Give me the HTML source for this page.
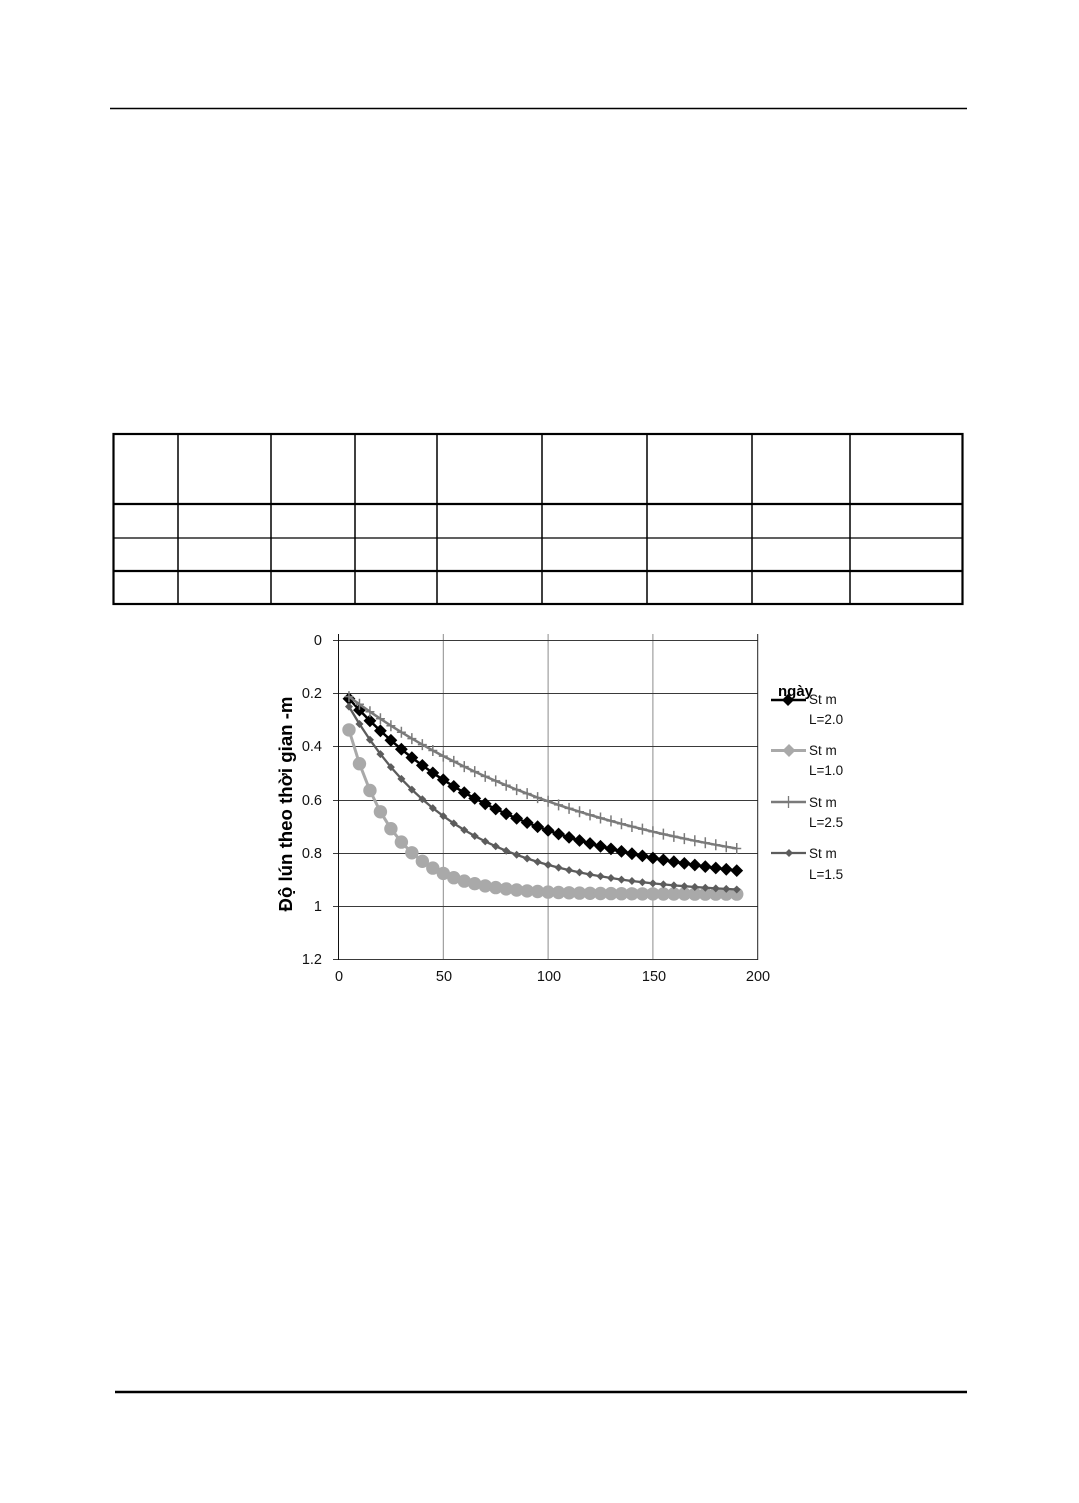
<!DOCTYPE html>
<html><head><meta charset="utf-8"><style>
html,body{margin:0;padding:0;background:#fff;}
svg{display:block;}
text{font-family:"Liberation Sans",sans-serif;}
</style></head><body>
<svg width="1079" height="1503" viewBox="0 0 1079 1503" xmlns="http://www.w3.org/2000/svg">
<rect width="1079" height="1503" fill="#fff"/>
<!-- header / footer rules -->
<line x1="110" y1="108.5" x2="967" y2="108.5" stroke="#000" stroke-width="1.5"/>
<line x1="115" y1="1392" x2="967" y2="1392" stroke="#000" stroke-width="2.5"/>

<!-- table -->
<g stroke="#000" fill="none">
<rect x="113.5" y="434" width="849" height="170" stroke-width="2.2"/>
<line x1="113" y1="504" x2="963" y2="504" stroke-width="2.2"/>
<line x1="113" y1="538" x2="963" y2="538" stroke-width="1.3"/>
<line x1="113" y1="571" x2="963" y2="571" stroke-width="2.2"/>
<g stroke-width="1.5">
<line x1="178" y1="434" x2="178" y2="604"/>
<line x1="271" y1="434" x2="271" y2="604"/>
<line x1="355" y1="434" x2="355" y2="604"/>
<line x1="437" y1="434" x2="437" y2="604"/>
<line x1="542" y1="434" x2="542" y2="604"/>
<line x1="647" y1="434" x2="647" y2="604"/>
<line x1="752" y1="434" x2="752" y2="604"/>
<line x1="850" y1="434" x2="850" y2="604"/>
</g>
</g>

<defs>
<marker id="mB" markerUnits="userSpaceOnUse" markerWidth="14" markerHeight="14" refX="7" refY="7" overflow="visible"><path d="M7 0.6 L13.4 7 L7 13.4 L0.6 7Z" fill="#000"/></marker>
<marker id="mA" markerUnits="userSpaceOnUse" markerWidth="15" markerHeight="15" refX="7.5" refY="7.5" overflow="visible"><circle cx="7.5" cy="7.5" r="6.7" fill="#a9a9a9"/></marker>
<marker id="mC" markerUnits="userSpaceOnUse" markerWidth="12" markerHeight="12" refX="6" refY="6" overflow="visible"><path d="M6 0.5 V11.5 M1.5 6 H10.5" stroke="#7a7a7a" stroke-width="1.5" fill="none"/></marker>
<marker id="mD" markerUnits="userSpaceOnUse" markerWidth="9" markerHeight="9" refX="4.5" refY="4.5" overflow="visible"><path d="M4.5 0.5 L8.5 4.5 L4.5 8.5 L0.5 4.5Z" fill="#5c5c5c"/></marker>
</defs>

<!-- chart grid -->
<g stroke-width="1" fill="none">
<g stroke="#8c8c8c">
<line x1="443.3" y1="634" x2="443.3" y2="960"/>
<line x1="548.1" y1="634" x2="548.1" y2="960"/>
<line x1="652.9" y1="634" x2="652.9" y2="960"/>
</g>
<g stroke="#3a3a3a">
<line x1="333" y1="640.5" x2="758" y2="640.5"/>
<line x1="333" y1="693.5" x2="758" y2="693.5"/>
<line x1="333" y1="746.5" x2="758" y2="746.5"/>
<line x1="333" y1="800.5" x2="758" y2="800.5"/>
<line x1="333" y1="853.5" x2="758" y2="853.5"/>
<line x1="333" y1="906.5" x2="758" y2="906.5"/>
<line x1="333" y1="959.5" x2="758" y2="959.5"/>
</g>
<line x1="338.5" y1="634" x2="338.5" y2="960" stroke="#111"/>
<line x1="757.7" y1="634" x2="757.7" y2="960" stroke="#222"/>
</g>

<!-- y tick labels -->
<g font-size="14.5" fill="#111" text-anchor="end">
<text x="322" y="645">0</text>
<text x="322" y="698">0.2</text>
<text x="322" y="751">0.4</text>
<text x="322" y="805">0.6</text>
<text x="322" y="858">0.8</text>
<text x="322" y="911">1</text>
<text x="322" y="964">1.2</text>
</g>
<!-- x tick labels -->
<g font-size="14.5" fill="#111" text-anchor="middle">
<text x="339" y="981">0</text>
<text x="444" y="981">50</text>
<text x="549" y="981">100</text>
<text x="654" y="981">150</text>
<text x="758" y="981">200</text>
</g>
<!-- y axis title -->
<text transform="translate(292,804) rotate(-90)" font-size="18" font-weight="bold" fill="#000" text-anchor="middle" textLength="215" lengthAdjust="spacingAndGlyphs">Độ lún theo thời gian -m</text>

<!-- series: L=2.0 black -->
<polyline fill="none" stroke="#000" stroke-width="2.5" stroke-linejoin="round" marker-start="url(#mB)" marker-mid="url(#mB)" marker-end="url(#mB)" points="348.98,698.7 359.46,710.1 369.94,720.8 380.42,730.8 390.9,740.3 401.38,749.2 411.86,757.6 422.34,765.4 432.82,772.9 443.3,779.8 453.78,786.4 464.26,792.6 474.74,798.4 485.22,803.8 495.7,809.0 506.18,813.8 516.66,818.4 527.14,822.6 537.62,826.7 548.1,830.4 558.58,834.0 569.06,837.4 579.54,840.5 590.02,843.5 600.5,846.3 610.98,848.9 621.46,851.4 631.94,853.7 642.42,855.9 652.9,858.0 663.38,859.9 673.86,861.7 684.34,863.4 694.82,865.0 705.3,866.6 715.78,868.0 726.26,869.3 736.74,870.6"/>
<!-- series: L=1.0 circles -->
<polyline fill="none" stroke="#a9a9a9" stroke-width="3" stroke-linejoin="round" marker-start="url(#mA)" marker-mid="url(#mA)" marker-end="url(#mA)" points="348.98,729.9 359.46,763.7 369.94,790.5 380.42,811.8 390.9,828.7 401.38,842.1 411.86,852.8 422.34,861.3 432.82,868.1 443.3,873.4 453.78,877.7 464.26,881.1 474.74,883.7 485.22,885.9 495.7,887.6 506.18,888.9 516.66,890.0 527.14,890.9 537.62,891.5 548.1,892.1 558.58,892.5 569.06,892.8 579.54,893.1 590.02,893.3 600.5,893.5 610.98,893.6 621.46,893.7 631.94,893.8 642.42,893.9 652.9,893.9 663.38,894.0 673.86,894.0 684.34,894.0 694.82,894.1 705.3,894.1 715.78,894.1 726.26,894.1 736.74,894.1"/>
<!-- series: L=2.5 plus -->
<polyline fill="none" stroke="#7a7a7a" stroke-width="2.5" stroke-linejoin="round" marker-start="url(#mC)" marker-mid="url(#mC)" marker-end="url(#mC)" points="348.98,696.6 359.46,704.3 369.94,711.7 380.42,718.8 390.9,725.7 401.38,732.2 411.86,738.6 422.34,744.6 432.82,750.5 443.3,756.1 453.78,761.4 464.26,766.6 474.74,771.6 485.22,776.4 495.7,780.9 506.18,785.3 516.66,789.6 527.14,793.6 537.62,797.6 548.1,801.3 558.58,804.9 569.06,808.4 579.54,811.7 590.02,814.9 600.5,818.0 610.98,820.9 621.46,823.8 631.94,826.5 642.42,829.1 652.9,831.7 663.38,834.1 673.86,836.4 684.34,838.6 694.82,840.8 705.3,842.8 715.78,844.8 726.26,846.7 736.74,848.5"/>
<!-- series: L=1.5 small diamonds -->
<polyline fill="none" stroke="#5c5c5c" stroke-width="2.3" stroke-linejoin="round" marker-start="url(#mD)" marker-mid="url(#mD)" marker-end="url(#mD)" points="348.98,706.6 359.46,724.0 369.94,739.8 380.42,754.1 390.9,767.1 401.38,778.9 411.86,789.6 422.34,799.3 432.82,808.1 443.3,816.1 453.78,823.4 464.26,830.0 474.74,836.0 485.22,841.4 495.7,846.3 506.18,850.8 516.66,854.8 527.14,858.5 537.62,861.9 548.1,864.9 558.58,867.6 569.06,870.1 579.54,872.4 590.02,874.5 600.5,876.3 610.98,878.0 621.46,879.6 631.94,881.0 642.42,882.2 652.9,883.4 663.38,884.4 673.86,885.4 684.34,886.2 694.82,887.0 705.3,887.7 715.78,888.4 726.26,888.9 736.74,889.5"/>

<!-- legend -->
<g>
<line x1="771" y1="700" x2="806" y2="700" stroke="#000" stroke-width="2.5"/>
<path d="M788 694 L794 700 L788 706 L782 700Z" fill="#000"/>
<line x1="771" y1="750.5" x2="806" y2="750.5" stroke="#a9a9a9" stroke-width="3"/>
<path d="M789 744 L795.5 750.5 L789 757 L782.5 750.5Z" fill="#a9a9a9"/>
<line x1="771" y1="802" x2="806" y2="802" stroke="#7a7a7a" stroke-width="2.5"/>
<line x1="788.5" y1="796" x2="788.5" y2="808" stroke="#7a7a7a" stroke-width="1.3"/>
<line x1="771" y1="853" x2="806" y2="853" stroke="#5c5c5c" stroke-width="2.3"/>
<path d="M789 849 L793 853 L789 857 L785 853Z" fill="#5c5c5c"/>
</g>
<g font-size="13.5" fill="#111">
<text x="809" y="704">St m</text>
<text x="809" y="724">L=2.0</text>
<text x="809" y="755">St m</text>
<text x="809" y="775">L=1.0</text>
<text x="809" y="807">St m</text>
<text x="809" y="827">L=2.5</text>
<text x="809" y="858">St m</text>
<text x="809" y="879">L=1.5</text>
</g>
<text x="778" y="696" font-size="15" font-weight="bold" fill="#000">ngày</text>
</svg>
</body></html>
